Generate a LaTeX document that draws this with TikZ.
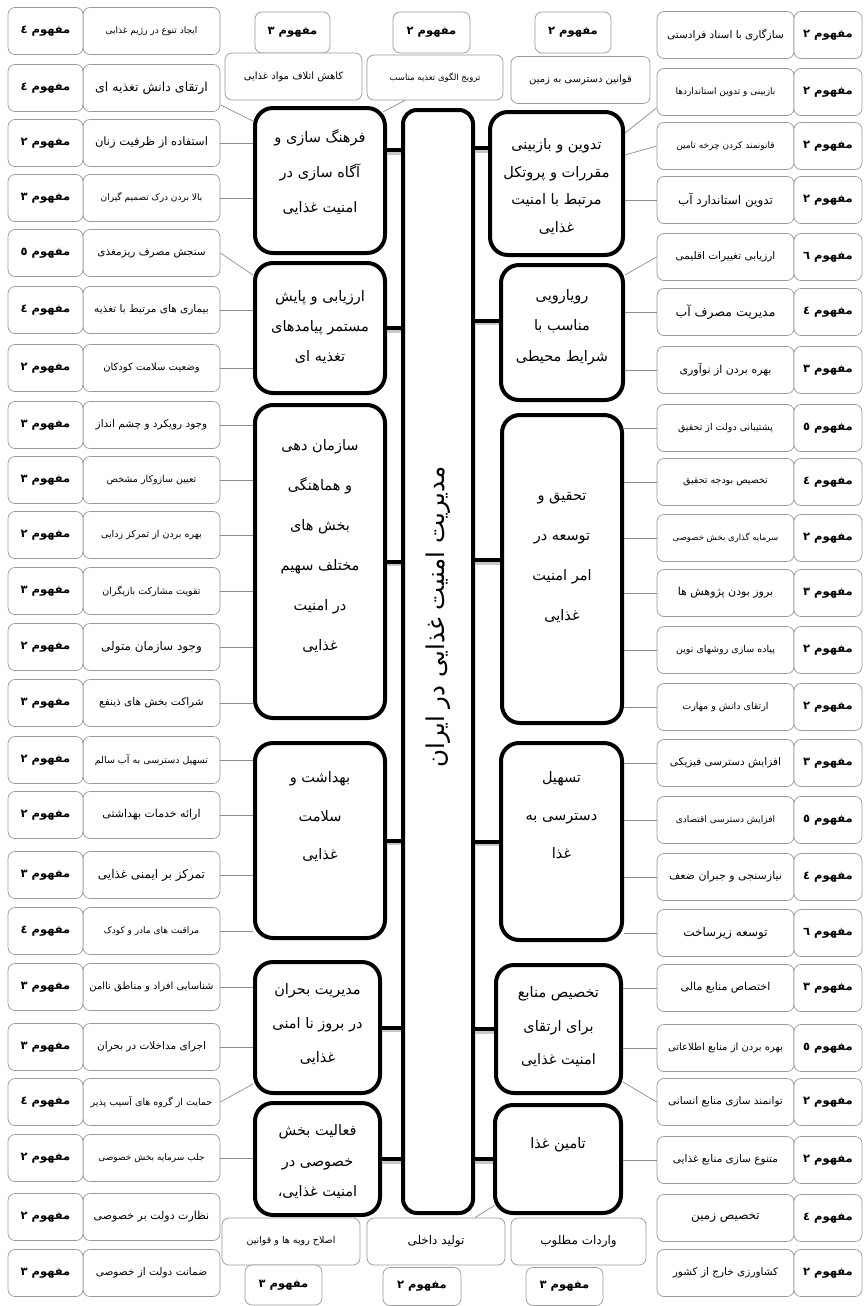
\documentclass[tikz,border=0pt]{standalone}
\usepackage{fontspec}
\newfontfamily\fa[Script=Arabic]{DejaVu Sans}
\usetikzlibrary{positioning}
\usetikzlibrary{calc}
\TeXXeTstate=1
\newcommand{\rl}[1]{\beginR#1\endR}
\newcommand{\catfont}[1]{\fa\fontsize{14.5}{#1}\selectfont}
\definecolor{boxgray}{gray}{0.6}
\definecolor{linegray}{gray}{0.55}
\tikzset{
  leaf/.style={draw=boxgray, line width=0.7pt, rounded corners=7pt, fill=white,
    minimum height=47pt, inner sep=1pt},
  leaflab/.style={leaf, minimum width=137pt},
  leafcnt/.style={leaf, font=\fa\bfseries\fontsize{11.5}{11.5}\selectfont},
  catbox/.style={draw, line width=4pt, rounded corners=18pt, fill=white},
  spoke/.style={line width=4pt,
    preaction={draw=black!22, line width=4pt, transform canvas={yshift=-2.5pt}}},
  leafline/.style={draw=linegray, line width=0.7pt},
}

\begin{document}
\begin{tikzpicture}[x=1pt, y=-1pt]
    \useasboundingbox (0,0) rectangle (866,1306);
    % hub
    \node[catbox, minimum width=70pt, minimum height=1103pt, rounded corners=14pt] (hub) at (438,661.5) {};
    \node[rotate=90, font=\fa\fontsize{24.5}{24.5}\selectfont] (hubtxt) at (438,617) {\rl{مدیریت امنیت غذایی در ایران}};

    % left categories
    \node[catbox, minimum width=130pt, minimum height=145pt] (catL1) at (320,180.5) {};
    \node[font={\catfont{35}}, align=center] (txtL1) at (320,172) {\rl{فرهنگ سازی و}\\\rl{آگاه سازی در}\\\rl{امنیت غذایی}};
    \node[catbox, minimum width=130pt, minimum height=130pt] (catL2) at (320,328) {};
    \node[font={\catfont{30}}, align=center] (txtL2) at (320,327) {\rl{ارزیابی و پایش}\\\rl{مستمر پیامدهای}\\\rl{تغذیه ای}};
    \node[catbox, minimum width=130pt, minimum height=313pt] (catL3) at (320,561.5) {};
    \node[font={\catfont{40}}, align=center] (txtL3) at (320,546) {\rl{سازمان دهی}\\\rl{و هماهنگی}\\\rl{بخش های}\\\rl{مختلف سهیم}\\\rl{در امنیت}\\\rl{غذایی}};
    \node[catbox, minimum width=130pt, minimum height=195pt] (catL4) at (320,840.5) {};
    \node[font={\catfont{38.5}}, align=center] (txtL4) at (320,817) {\rl{بهداشت و}\\\rl{سلامت}\\\rl{غذایی}};
    \node[catbox, minimum width=125pt, minimum height=131pt] (catL5) at (317.5,1027.5) {};
    \node[font={\catfont{34}}, align=center] (txtL5) at (317.5,1024) {\rl{مدیریت بحران}\\\rl{در بروز نا امنی}\\\rl{غذایی}};
    \node[catbox, minimum width=125pt, minimum height=112pt] (catL6) at (317.5,1159) {};
    \node[font={\catfont{30.5}}, align=center] (txtL6) at (317.5,1162) {\rl{فعالیت بخش}\\\rl{خصوصی در}\\\rl{امنیت غذایی،}};

    % right categories
    \node[catbox, minimum width=133pt, minimum height=143pt] (catR1) at (556.5,183.5) {};
    \node[font={\catfont{27.7}}, align=center] (txtR1) at (556.5,186.5) {\rl{تدوین و بازبینی}\\\rl{مقررات و پروتکل}\\\rl{مرتبط با امنیت}\\\rl{غذایی}};
    \node[catbox, minimum width=122pt, minimum height=135pt] (catR2) at (562,332.5) {};
    \node[font={\catfont{30.5}}, align=center] (txtR2) at (562,327) {\rl{رویارویی}\\\rl{مناسب با}\\\rl{شرایط محیطی}};
    \node[catbox, minimum width=120pt, minimum height=308pt] (catR3) at (562,569) {};
    \node[font={\catfont{40}}, align=center] (txtR3) at (562,557) {\rl{تحقیق و}\\\rl{توسعه در}\\\rl{امر امنیت}\\\rl{غذایی}};
    \node[catbox, minimum width=121pt, minimum height=197pt] (catR4) at (561.5,841.5) {};
    \node[font={\catfont{38}}, align=center] (txtR4) at (561.5,815) {\rl{تسهیل}\\\rl{دسترسی به}\\\rl{غذا}};
    \node[catbox, minimum width=125pt, minimum height=128pt] (catR5) at (558.5,1029) {};
    \node[font={\catfont{33.5}}, align=center] (txtR5) at (558.5,1027) {\rl{تخصیص منابع}\\\rl{برای ارتقای}\\\rl{امنیت غذایی}};
    \node[catbox, minimum width=126pt, minimum height=108pt] (catR6) at (558,1159) {};
    \node[font={\catfont{30}}] (txtR6) at (558,1145) {\rl{تامین غذا}};

    % spokes
    \coordinate (sL1) at ($(catL1.north east)+(0,44)$);
    \coordinate (sR1) at ($(catR1.north west)+(0,38)$);
    \coordinate (sR2) at ($(catR2.west)+(0,-12)$);
    \coordinate (sR3) at ($(catR3.west)+(0,-9)$);
    \draw[spoke] (sL1) -- (sL1 -| hub.west);
    \foreach \c in {2,...,6}
        \draw[spoke] (catL\c.east) -- (catL\c.east -| hub.west);
    \draw[spoke] (sR1) -- (sR1 -| hub.east);
    \draw[spoke] (sR2) -- (sR2 -| hub.east);
    \draw[spoke] (sR3) -- (sR3 -| hub.east);
    \foreach \c in {4,5,6}
        \draw[spoke] (catR\c.west) -- (catR\c.west -| hub.east);

    % left leaves
    \foreach \i/\y/\txt/\n/\sz in {
        1/31/{ایجاد تنوع در رژیم غذایی}/٤/9,
        2/88/{ارتقای دانش تغذیه ای}/٤/12.5,
        3/143/{استفاده از ظرفیت زنان}/٢/11.5,
        4/198/{بالا بردن درک تصمیم گیران}/٣/9,
        5/253/{سنجش مصرف ریزمغذی}/٥/10.5,
        6/310/{بیماری های مرتبط با تغذیه}/٤/10.5,
        7/368/{وضعیت سلامت کودکان}/٢/10,
        8/425/{وجود رویکرد و چشم انداز}/٣/10.5,
        9/480/{تعیین سازوکار مشخص}/٣/9.5,
        10/535/{بهره بردن از تمرکز زدایی}/٢/9.5,
        11/591/{تقویت مشارکت بازیگران}/٣/9.5,
        12/647/{وجود سازمان متولی}/٢/12,
        13/703/{شراکت بخش های ذینفع}/٣/10.5,
        14/760/{تسهیل دسترسی به آب سالم}/٢/9.5,
        15/815/{ارائه خدمات بهداشتی}/٢/11,
        16/875/{تمرکز بر ایمنی غذایی}/٣/12,
        17/931/{مراقبت های مادر و کودک}/٤/9,
        18/987/{شناسایی افراد و مناطق ناامن}/٣/10,
        19/1047/{اجرای مداخلات در بحران}/٣/10.5,
        20/1102/{حمایت از گروه های آسیب پذیر}/٤/9.5,
        21/1158/{جلب سرمایه بخش خصوصی}/٢/9,
        22/1217/{نظارت دولت بر خصوصی}/٢/11,
        23/1273/{ضمانت دولت از خصوصی}/٣/10.5}{
        \node[leaflab, font=\fa\fontsize{\sz}{\sz}\selectfont] (labL\i) at (151.5,\y) {\rl{\txt}};
        \node[leafcnt, minimum width=75pt] (cntL\i) at (45.5,\y) {\rl{مفهوم \n}};
    }

    % right leaves
    \foreach \i/\y/\txt/\n/\sz in {
        1/35/{سازگاری با اسناد فرادستی}/٢/10.5,
        2/92/{بازبینی و تدوین استانداردها}/٢/9,
        3/146/{قانونمند کردن چرخه تامین}/٢/9,
        4/200/{تدوین استاندارد آب}/٢/12,
        5/257/{ارزیابی تغییرات اقلیمی}/٦/10.5,
        6/312/{مدیریت مصرف آب}/٤/12.5,
        7/370/{بهره بردن از نوآوری}/٣/11,
        8/428/{پشتیبانی دولت از تحقیق}/٥/9.5,
        9/482/{تخصیص بودجه تحقیق}/٤/9.5,
        10/538/{سرمایه گذاری بخش خصوصی}/٢/8.5,
        11/593/{بروز بودن پژوهش ها}/٣/11,
        12/650/{پیاده سازی روشهای نوین}/٢/9.5,
        13/707/{ارتقای دانش و مهارت}/٢/9.5,
        14/763/{افزایش دسترسی فیزیکی}/٣/10.5,
        15/820/{افزایش دسترسی اقتصادی}/٥/9,
        16/877/{نیازسنجی و جبران ضعف}/٤/11,
        17/933/{توسعه زیرساخت}/٦/12,
        18/988/{اختصاص منابع مالی}/٣/11,
        19/1048/{بهره بردن از منابع اطلاعاتی}/٥/10,
        20/1102/{توانمند سازی منابع انسانی}/٢/10.5,
        21/1160/{متنوع سازی منابع غذایی}/٢/10.5,
        22/1218/{تخصیص زمین}/٤/12,
        23/1273/{کشاورزی خارج از کشور}/٢/10.5}{
        \node[leaflab, font=\fa\fontsize{\sz}{\sz}\selectfont] (labR\i) at (725.5,\y) {\rl{\txt}};
        \node[leafcnt, minimum width=68pt] (cntR\i) at (828,\y) {\rl{مفهوم \n}};
    }

    % top and bottom leaves
    \node[leafcnt, minimum width=75pt, minimum height=41pt] (topC1) at (292.5,32.5) {\rl{مفهوم ٣}};
    \node[leafcnt, minimum width=77pt, minimum height=41pt] (topC2) at (431.5,32.5) {\rl{مفهوم ٢}};
    \node[leafcnt, minimum width=76pt, minimum height=41pt] (topC3) at (573,32.5) {\rl{مفهوم ٢}};
    \node[leaflab, font=\fa\fontsize{10}{10}\selectfont] (topL1) at (293.5,76.5) {\rl{کاهش اتلاف مواد غذایی}};
    \node[leaflab, minimum width=136pt, minimum height=45pt, font=\fa\fontsize{8.5}{8.5}\selectfont] (topL2) at (435,77.5) {\rl{ترویج الگوی تغذیه مناسب}};
    \node[leaflab, minimum width=139pt, font=\fa\fontsize{10}{10}\selectfont] (topL3) at (580.5,80) {\rl{قوانین دسترسی به زمین}};

    \node[leaflab, minimum width=138pt, font=\fa\fontsize{9.5}{9.5}\selectfont] (botL1) at (291,1241.5) {\rl{اصلاح رویه ها و قوانین}};
    \node[leaflab, minimum width=138pt, font=\fa\fontsize{12}{12}\selectfont] (botL2) at (436,1241.5) {\rl{تولید داخلی}};
    \node[leaflab, minimum width=135pt, font=\fa\fontsize{12}{12}\selectfont] (botL3) at (578.5,1241.5) {\rl{واردات مطلوب}};
    \node[leafcnt, minimum width=77pt, minimum height=40pt] (botC1) at (283.5,1285) {\rl{مفهوم ٣}};
    \node[leafcnt, minimum width=78pt, minimum height=38pt] (botC2) at (422,1286.5) {\rl{مفهوم ٢}};
    \node[leafcnt, minimum width=77pt, minimum height=38pt] (botC3) at (564.5,1286.5) {\rl{مفهوم ٣}};

    % thin connectors
    \foreach \i/\c in {3/1,4/1,6/2,7/2,8/3,9/3,10/3,11/3,12/3,13/3,14/4,15/4,16/4,17/4,18/5,19/5,21/6}
        \draw[leafline] (labL\i.east) -- (labL\i.east -| catL\c.west);
    \draw[leafline] ($(labL2.south east)+(0,-7)$) -- ($(catL1.north west)+(0,15)$);
    \draw[leafline] (labL5.east) -- ($(catL2.north west)+(0,14)$);
    \draw[leafline] (labL20.east) -- ($(catL5.south west)+(0,-11)$);

    \foreach \i/\c in {4/1,6/2,7/2,8/3,9/3,10/3,11/3,12/3,13/3,14/4,15/4,16/4,17/4,18/5,19/5,21/6}
        \draw[leafline] (labR\i.west) -- (labR\i.west -| catR\c.east);
    \draw[leafline] ($(catR1.north east)+(0,23)$) -- ($(labR2.south west)+(0,-8)$);
    \draw[leafline] ($(catR1.north east)+(0,45)$) -- (labR3.west);
    \draw[leafline] ($(catR2.north east)+(0,12)$) -- (labR5.west);
    \draw[leafline] ($(catR5.south east)+(0,-13)$) -- (labR20.west);

    \draw[leafline] ($(topL2.south west)!0.28!(topL2.south east)$) -- ($(catL1.north east)+(-4,6)$);
    \draw[leafline] ($(catR6.south west)+(2,-10)$) -- ($(botL2.north west)!0.78!(botL2.north east)$);
\end{tikzpicture}
\end{document}
